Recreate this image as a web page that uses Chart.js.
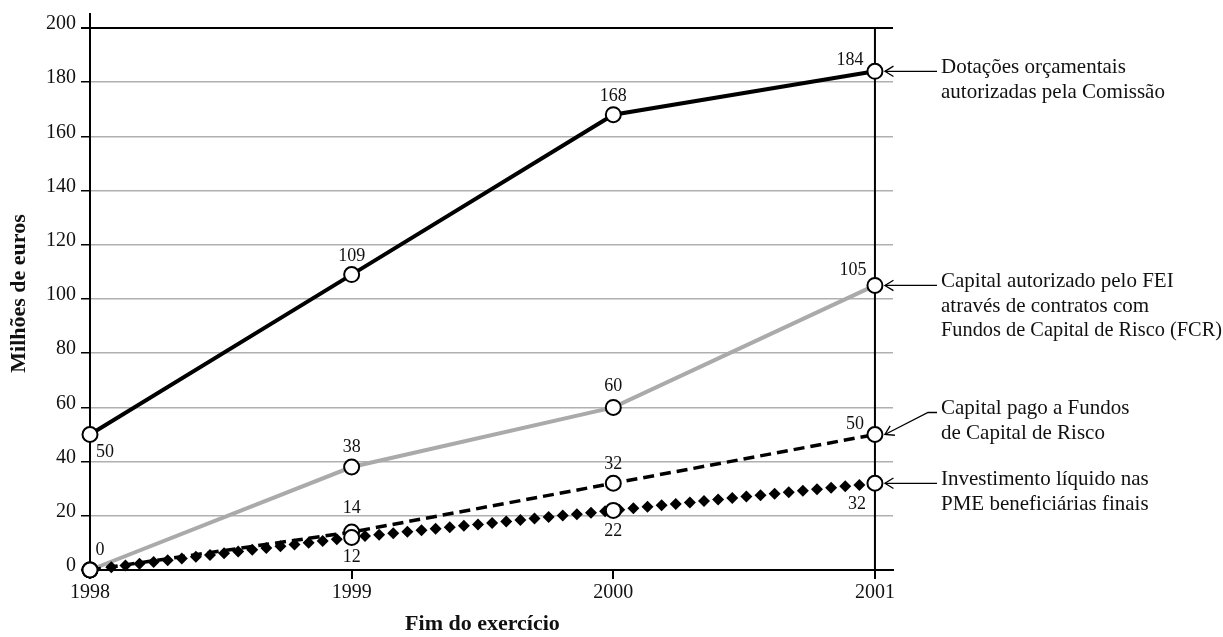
<!DOCTYPE html>
<html>
<head>
<meta charset="utf-8">
<script src="https://cdn.jsdelivr.net/npm/chart.js@4.4.1/dist/chart.umd.min.js"></script>
<style>
  html, body { margin: 0; padding: 0; background: #ffffff; }
  #wrap { width: 1223px; height: 637px; }
</style>
</head>
<body>
<div id="wrap"><canvas id="chart" width="1223" height="637"></canvas></div>
<script>
// Fim do exercício (anos)
const years = [1998, 1999, 2000, 2001];

// Séries em milhões de euros
const dotacoes = [50, 109, 168, 184];
const capitalAutorizado = [0, 38, 60, 105];
const capitalPago = [0, 14, 32, 50];
const investimento = [0, 12, 22, 32];

// Marcas do eixo vertical
const yTickValues = [0, 20, 40, 60, 80, 100, 120, 140, 160, 180, 200];

// Textos das legendas à direita
const nomeDotacoes = ['Dotações orçamentais', 'autorizadas pela Comissão'];
const nomeAutorizado = ['Capital autorizado pelo FEI', 'através de contratos com', 'Fundos de Capital de Risco (FCR)'];
const nomePago = ['Capital pago a Fundos', 'de Capital de Risco'];
const nomeInvestimento = ['Investimento líquido nas', 'PME beneficiárias finais'];

const yTitle = 'Milhões de euros';
const xTitle = 'Fim do exercício';

const SERIF = "'Liberation Serif', 'DejaVu Serif', serif";

function toPoints(values) {
  return years.map((y, i) => ({ x: y, y: values[i] }));
}

const circle = {
  pointStyle: 'circle',
  pointRadius: 7.5,
  pointHoverRadius: 7.5,
  pointBackgroundColor: '#ffffff',
  pointBorderColor: '#000000',
  pointBorderWidth: 2,
  tension: 0,
  clip: false
};

const datasets = [
  Object.assign({
    label: nomeDotacoes.join(' '),
    data: toPoints(dotacoes),
    borderColor: '#000000',
    borderWidth: 4,
    order: 3,
    legendLines: nomeDotacoes,
    // posição das etiquetas de valor relativamente ao ponto [dx, dy]
    labelPos: [[15, 23], [0, -14], [0, -14], [-25, -6]],
    arrow: { bend: 0 }
  }, circle),
  Object.assign({
    label: nomeAutorizado.join(' '),
    data: toPoints(capitalAutorizado),
    borderColor: '#aaaaaa',
    borderWidth: 4,
    order: 2,
    legendLines: nomeAutorizado,
    labelPos: [[10, -15], [0, -15], [0, -16], [-22, -10]],
    arrow: { bend: 0 }
  }, circle),
  Object.assign({
    label: nomePago.join(' '),
    data: toPoints(capitalPago),
    borderColor: '#000000',
    borderWidth: 3.5,
    borderDash: [11, 6],
    order: 1,
    legendLines: nomePago,
    labelPos: [null, [0, -19], [0, -14], [-20, -5]],
    arrow: { bend: -22 }
  }, circle),
  Object.assign({
    label: nomeInvestimento.join(' '),
    data: toPoints(investimento),
    showLine: false,
    borderColor: '#000000',
    borderWidth: 0,
    order: 0,
    diamonds: true,
    legendLines: nomeInvestimento,
    labelPos: [null, [0, 25], [0, 26], [-18, 26]],
    arrow: { bend: 0 }
  }, circle)
];

function drawArrowHead(ctx, tipX, tipY, fromX, fromY) {
  const ang = Math.atan2(fromY - tipY, fromX - tipX);
  const len = 10, spread = 0.55;
  ctx.beginPath();
  ctx.moveTo(tipX + len * Math.cos(ang + spread), tipY + len * Math.sin(ang + spread));
  ctx.lineTo(tipX, tipY);
  ctx.lineTo(tipX + len * Math.cos(ang - spread), tipY + len * Math.sin(ang - spread));
  ctx.stroke();
}

const decorPlugin = {
  id: 'decor',
  beforeDatasetsDraw(chart) {
    const { ctx, scales: { x, y }, chartArea } = chart;
    ctx.save();
    ctx.strokeStyle = '#000000';
    ctx.lineWidth = 2;
    // prolongamento do eixo vertical acima da área
    ctx.beginPath();
    ctx.moveTo(chartArea.left, chartArea.top - 4);
    ctx.lineTo(chartArea.left, chartArea.top + 1);
    ctx.stroke();
    // linha vertical no último exercício
    const xr = x.getPixelForValue(years[years.length - 1]);
    ctx.beginPath();
    ctx.moveTo(xr, y.getPixelForValue(200));
    ctx.lineTo(xr, y.getPixelForValue(0));
    ctx.stroke();

    // títulos dos eixos
    ctx.fillStyle = '#111111';
    ctx.font = 'bold 22px ' + SERIF;
    ctx.textAlign = 'center';
    ctx.textBaseline = 'middle';
    ctx.fillText(xTitle, (chartArea.left + xr) / 2, 624);
    ctx.translate(19, (chartArea.top + chartArea.bottom) / 2);
    ctx.rotate(-Math.PI / 2);
    ctx.fillText(yTitle, 0, 0);
    ctx.restore();
  },
  beforeDatasetDraw(chart, args) {
    const ds = chart.data.datasets[args.index];
    if (!ds.diamonds) return;
    const pts = args.meta.data;
    const { ctx } = chart;
    const step = 14.2, half = 6;
    ctx.save();
    ctx.fillStyle = '#000000';
    let carry = 21.5;
    for (let i = 0; i < pts.length - 1; i++) {
      const a = pts[i], b = pts[i + 1];
      const dx = b.x - a.x, dy = b.y - a.y;
      const L = Math.hypot(dx, dy);
      let d = carry;
      while (d <= L) {
        const px = a.x + dx * d / L, py = a.y + dy * d / L;
        ctx.beginPath();
        ctx.moveTo(px, py - half);
        ctx.lineTo(px + half, py);
        ctx.lineTo(px, py + half);
        ctx.lineTo(px - half, py);
        ctx.closePath();
        ctx.fill();
        d += step;
      }
      carry = d - L;
    }
    ctx.restore();
  },
  afterDatasetsDraw(chart) {
    const { ctx } = chart;
    ctx.save();
    // etiquetas de valor
    ctx.fillStyle = '#111111';
    ctx.font = '18px ' + SERIF;
    ctx.textAlign = 'center';
    ctx.textBaseline = 'alphabetic';
    chart.data.datasets.forEach((ds, di) => {
      const meta = chart.getDatasetMeta(di);
      meta.data.forEach((pt, i) => {
        const pos = ds.labelPos[i];
        if (!pos) return;
        ctx.fillText(String(ds.data[i].y), pt.x + pos[0], pt.y + pos[1]);
      });
    });

    // setas e legendas à direita
    const tailX = 937, textX = 941, lineGap = 24.5, maxW = 281;
    chart.data.datasets.forEach((ds, di) => {
      const meta = chart.getDatasetMeta(di);
      const last = meta.data[meta.data.length - 1];
      const tipX = last.x + 10, tipY = last.y;
      const tailY = tipY + ds.arrow.bend;
      ctx.strokeStyle = '#000000';
      ctx.lineWidth = 1.3;
      ctx.beginPath();
      ctx.moveTo(tailX, tailY);
      let fromX = tailX, fromY = tailY;
      if (ds.arrow.bend !== 0) {
        ctx.lineTo(tailX - 9, tailY);
        fromX = tailX - 9;
      }
      ctx.lineTo(tipX, tipY);
      ctx.stroke();
      drawArrowHead(ctx, tipX, tipY, fromX, fromY);

      ctx.fillStyle = '#111111';
      ctx.font = '21px ' + SERIF;
      ctx.textAlign = 'left';
      ds.legendLines.forEach((line, k) => {
        ctx.fillText(line, textX, tailY + 2 + k * lineGap, maxW);
      });
    });
    ctx.restore();
  }
};

new Chart(document.getElementById('chart'), {
  type: 'line',
  data: { datasets },
  options: {
    responsive: false,
    devicePixelRatio: 1,
    animation: false,
    events: [],
    layout: { padding: { left: 0, top: 12, right: 330, bottom: 0 } },
    plugins: { legend: { display: false }, tooltip: { enabled: false } },
    scales: {
      x: {
        type: 'linear',
        min: 1998,
        max: 2001.069,
        afterFit(scale) { scale.height = 67; },
        afterBuildTicks(scale) { scale.ticks = years.map(v => ({ value: v })); },
        border: { display: true, color: '#000000', width: 2 },
        grid: { drawOnChartArea: false, drawTicks: true, tickLength: 9, tickColor: '#000000', lineWidth: 2 },
        ticks: {
          autoSkip: false,
          maxRotation: 0,
          padding: 2,
          color: '#111111',
          font: { family: SERIF, size: 20 },
          callback: v => String(v)
        }
      },
      y: {
        type: 'linear',
        min: 0,
        max: 204.05,
        afterFit(scale) { scale.width = 90; },
        afterBuildTicks(scale) { scale.ticks = yTickValues.map(v => ({ value: v })); },
        border: { display: true, color: '#000000', width: 2 },
        grid: {
          drawOnChartArea: true,
          drawTicks: true,
          tickLength: 9,
          tickColor: '#000000',
          color: c => (c.tick && c.tick.value === 200 ? '#000000' : (c.tick && c.tick.value === 0 ? 'rgba(0,0,0,0)' : '#b0b0b0')),
          lineWidth: c => (c.tick && c.tick.value === 200 ? 2 : 1.5)
        },
        ticks: {
          padding: 5,
          labelOffset: -4,
          color: '#111111',
          font: { family: SERIF, size: 20 },
          callback: v => String(v)
        }
      }
    }
  },
  plugins: [decorPlugin]
});
</script>
</body>
</html>
